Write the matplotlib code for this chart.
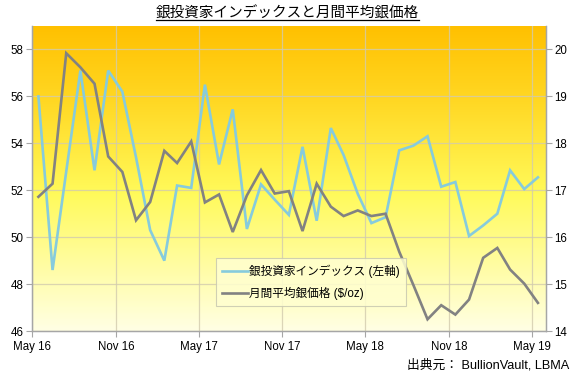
import numpy as np
import pandas as pd
import matplotlib
matplotlib.use("Agg")
import matplotlib.pyplot as plt
import matplotlib.dates as mdates
from matplotlib.colors import LinearSegmentedColormap
from matplotlib.lines import Line2D

plt.rcParams['font.family'] = ['Liberation Sans', 'Noto Sans CJK JP', 'DejaVu Sans']

# 月次データ（各月中旬にプロット）
months = pd.date_range('2016-05-01', '2019-05-01', freq='MS') + pd.Timedelta(days=14)

# 銀投資家インデックス（左軸）
investor_index = [56.0, 48.6, 52.8, 57.1, 52.85, 57.1, 56.2, 53.4, 50.3, 49.0,
                  52.2, 52.1, 56.5, 53.1, 55.45, 50.35, 52.25, 51.6, 50.95, 53.85,
                  50.7, 54.65, 53.5, 51.85, 50.6, 50.85, 53.7, 53.9, 54.3, 52.15,
                  52.35, 50.05, 50.5, 51.0, 52.85, 52.05, 52.55]

# 月間平均銀価格 $/oz（右軸）
silver_price = [16.86, 17.14, 19.92, 19.62, 19.27, 17.72, 17.39, 16.36, 16.75, 17.84,
                17.58, 18.04, 16.74, 16.91, 16.11, 16.89, 17.43, 16.93, 16.98, 16.13,
                17.14, 16.65, 16.45, 16.57, 16.45, 16.50, 15.69, 14.98, 14.25, 14.55,
                14.35, 14.67, 15.56, 15.77, 15.31, 15.01, 14.60]

left_ticks = [46, 48, 50, 52, 54, 56, 58]
right_ticks = [14, 15, 16, 17, 18, 19, 20]

cyan = '#86CBDD'
grey = '#828282'
frame = '#A6A6A6'

fig = plt.figure(figsize=(5.75, 3.79), dpi=100)
ax = fig.add_axes([0.0557, 0.1266, 0.8933, 0.8048])
ax2 = ax.twinx()

# 背景グラデーション
cmap = LinearSegmentedColormap.from_list('bg', [(0.0, '#FFFFE4'), (0.45, '#FFFA5A'),
                                                (0.75, '#FFD824'), (1.0, '#FFC000')])
grad = np.linspace(0, 1, 256).reshape(-1, 1)
ax.imshow(grad, cmap=cmap, aspect='auto', extent=[0, 1, 0, 1], origin='lower',
          transform=ax.transAxes, zorder=0)

ax.plot(months, investor_index, color=cyan, lw=1.9, zorder=3, solid_joinstyle='miter')
ax2.plot(months, silver_price, color=grey, lw=1.9, zorder=3, solid_joinstyle='miter')

ax.set_xlim(pd.Timestamp('2016-05-01'), pd.Timestamp('2019-06-01'))
ax.set_ylim(46, 59)
ax2.set_ylim(14, 20.5)
ax.set_yticks(left_ticks)
ax2.set_yticks(right_ticks)

ax.xaxis.set_major_locator(mdates.MonthLocator(bymonth=[5, 11]))
ax.xaxis.set_major_formatter(mdates.DateFormatter('%b %y'))

ax.grid(True, color='#D2CBAE', lw=0.9, alpha=0.8)
for a in (ax, ax2):
    for s in a.spines.values():
        s.set_color(frame)
        s.set_linewidth(0.9)
    a.spines['top'].set_visible(False)
    a.tick_params(length=4, color=frame, labelsize=8.3, pad=2)
ax.tick_params(axis='x', pad=3)

handles = [Line2D([], [], color=cyan, lw=1.9), Line2D([], [], color=grey, lw=1.9)]
leg = ax2.legend(handles, ['銀投資家インデックス (左軸)', '月間平均銀価格 ($/oz)'],
                 loc='lower left', bbox_to_anchor=(0.346, 0.062), fontsize=8.4,
                 handlelength=2.2, handletextpad=0.15, labelspacing=0.75,
                 borderpad=0.55, fancybox=False, framealpha=0.85,
                 facecolor='#FFFFD0', edgecolor='#C8C8B0')
leg.get_frame().set_linewidth(0.8)

title = fig.text(0.5, 0.965, '銀投資家インデックスと月間平均銀価格', ha='center', va='center',
                 fontsize=10.5, family=['Noto Sans CJK JP', 'DejaVu Sans'])
fig.text(0.99, 0.037, '出典元： BullionVault, LBMA', ha='right', va='center', fontsize=9.2)

# タイトルの下線
fig.canvas.draw()
bb = title.get_window_extent(fig.canvas.get_renderer()).transformed(fig.transFigure.inverted())
fig.add_artist(Line2D([bb.x0, bb.x1], [bb.y0 + 0.002, bb.y0 + 0.002], color='black', lw=0.9,
                      transform=fig.transFigure))

plt.savefig('out.png', dpi=100)
